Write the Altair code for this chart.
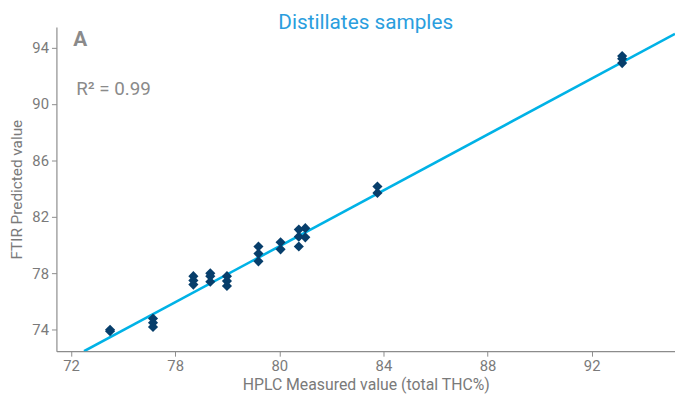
import altair as alt
import pandas as pd

# Measured (HPLC) vs predicted (FTIR) values
hplc = [73.5, 73.5,
        75.15, 75.15, 75.15,
        76.7, 76.7, 76.7,
        77.35, 77.35, 77.35,
        77.99, 77.99, 77.99,
        79.2, 79.2, 79.2,
        80.05, 80.05,
        80.75, 80.75, 80.75, 81.0, 81.0,
        83.77, 83.77,
        93.17, 93.17, 93.17]
ftir = [73.9, 74.0,
        74.8, 74.5, 74.2,
        77.8, 77.5, 77.2,
        78.0, 77.8, 77.4,
        77.8, 77.45, 77.1,
        79.9, 79.4, 78.85,
        80.2, 79.7,
        81.1, 80.6, 79.9, 81.2, 80.55,
        84.15, 83.7,
        93.4, 93.2, 92.9]

# Regression line endpoints
reg_x = [72.5, 95.2]
reg_y = [72.48, 94.97]

x_ticks = [72, 76, 80, 84, 88, 92]
x_tick_labels = ["72", "78", "80", "84", "88", "92"]
y_ticks = [74, 78, 82, 86, 90, 94]

x_domain = [71.44, 95.2]
y_domain = [72.48, 95.45]

chart_title = "Distillates samples"
panel_label = "A"
r2_label = "R² = 0.99"

pts = pd.DataFrame({"hplc": hplc, "ftir": ftir})
line_df = pd.DataFrame({"hplc": reg_x, "ftir": reg_y})

label_expr = "{" + ",".join(f"'{v}':'{l}'" for v, l in zip(x_ticks, x_tick_labels)) + "}[datum.value]"

FONT = "Roboto"
GREY = "#7a7a7a"

x_enc = alt.X("hplc:Q",
              scale=alt.Scale(domain=x_domain, nice=False, zero=False),
              axis=alt.Axis(title="HPLC Measured value (total THC%)", values=x_ticks,
                            labelExpr=label_expr, grid=False,
                            titleFontSize=16, titleBaseline="alphabetic", titleY=39))
y_enc = alt.Y("ftir:Q",
              scale=alt.Scale(domain=y_domain, nice=False, zero=False),
              axis=alt.Axis(title="FTIR Predicted value", values=y_ticks, grid=False,
                            titleFontSize=15.5, titlePadding=7))

line = alt.Chart(line_df).mark_line(color="#00b2e6", strokeWidth=2.6, clip=True).encode(
    x=x_enc, y=y_enc)

points = alt.Chart(pts).mark_point(shape="diamond", filled=True, size=105,
                                   color="#073e6b", opacity=1).encode(
    x="hplc:Q", y="ftir:Q")

title_mark = alt.Chart(pd.DataFrame({"t": [chart_title]})).mark_text(
    font=FONT, fontSize=21, color="#2a9ede", align="center", baseline="alphabetic"
).encode(text="t:N", x=alt.value(313), y=alt.value(2))

label_a = alt.Chart(pd.DataFrame({"t": [panel_label]})).mark_text(
    font=FONT, fontSize=21, fontWeight="bold", color="#8a8a8a", align="left", baseline="alphabetic"
).encode(text="t:N", x=alt.value(17), y=alt.value(19))

label_r = alt.Chart(pd.DataFrame({"t": [r2_label]})).mark_text(
    font=FONT, fontSize=19, color="#8a8a8a", align="left", baseline="alphabetic"
).encode(text="t:N", x=alt.value(20), y=alt.value(69))

chart = alt.layer(line, points, title_mark, label_a, label_r).properties(
    width=626, height=328,
    autosize=alt.AutoSizeParams(type="none"),
    padding={"left": 49, "top": 17, "right": 0, "bottom": 45},
).configure_view(stroke=None).configure_axis(
    labelFont=FONT, titleFont=FONT, labelFontSize=15,
    labelColor=GREY, titleColor=GREY, titleFontWeight="normal",
    domainColor="#8c8c8c", tickColor="#8c8c8c", tickSize=5, domainWidth=1.2,
    labelPadding=3
)

chart.save("out.html", embed_options={"renderer": "svg", "actions": False})
